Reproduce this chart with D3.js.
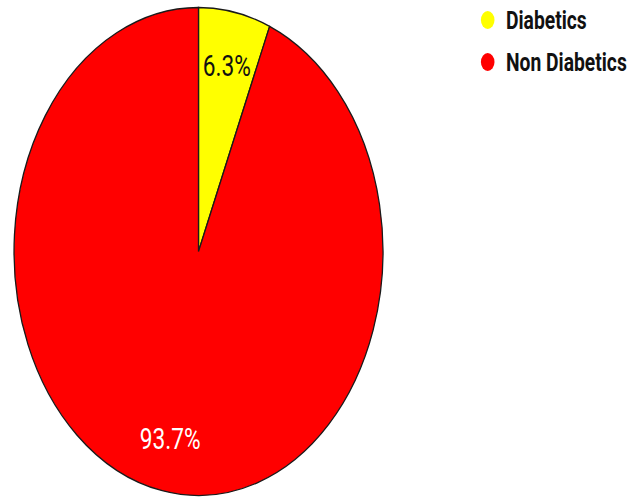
<!DOCTYPE html>
<html>
<head>
<meta charset="utf-8">
<script src="https://cdn.jsdelivr.net/npm/d3@7"></script>
<style>
  html, body { margin: 0; padding: 0; background: #fff; }
  svg { display: block; }
</style>
</head>
<body>
<svg id="chart" width="630" height="499"></svg>
<script>
// Share of patients by diabetes status
const categories = ["Diabetics", "Non Diabetics"];
const shares = [6.3, 93.7];
const colors = ["#ffff00", "#ff0000"];
const labelColors = ["#111111", "#ffffff"];

const W = 630, H = 499;
const sx = 0.756;           // horizontal squash of the whole drawing
const radius = 244;
const cx = 198.5, cy = 251.5;

const svg = d3.select("#chart");
const root = svg.append("g").attr("transform", `scale(${sx},1)`);

const pie = d3.pie().sort(null).value(d => d.value);
const arcs = pie(categories.map((c, i) => ({ name: c, value: shares[i], i })));

const arc = d3.arc().innerRadius(0).outerRadius(radius);
const labelArc = d3.arc().innerRadius(radius * 0.78).outerRadius(radius * 0.78);

const pieG = root.append("g").attr("transform", `translate(${cx / sx},${cy})`);

pieG.selectAll("path.slice")
  .data(arcs)
  .join("path")
  .attr("class", "slice")
  .attr("d", arc)
  .attr("fill", d => colors[d.data.i])
  .attr("stroke", "#1a1a1a")
  .attr("stroke-width", 1.3)
  .attr("vector-effect", "non-scaling-stroke");

pieG.selectAll("text.pct")
  .data(arcs)
  .join("text")
  .attr("class", "pct")
  .attr("transform", d => `translate(${labelArc.centroid(d)})`)
  .attr("text-anchor", "middle")
  .attr("dy", "0.36em")
  .attr("font-family", "Roboto, sans-serif")
  .attr("font-size", 30)
  .attr("fill", d => labelColors[d.data.i])
  .text(d => d.data.value.toFixed(1) + "%");

// Legend
const legend = root.append("g");
const legendY = [20, 62];
const items = legend.selectAll("g.item")
  .data(categories)
  .join("g")
  .attr("class", "item")
  .attr("transform", (d, i) => `translate(0,${legendY[i]})`);

items.append("circle")
  .attr("cx", 487.7 / sx)
  .attr("cy", 0)
  .attr("r", 9)
  .attr("fill", (d, i) => colors[i]);

items.append("text")
  .attr("x", 506 / sx)
  .attr("y", 0)
  .attr("dy", "0.36em")
  .attr("font-family", "Roboto, sans-serif")
  .attr("font-weight", "bold")
  .attr("font-size", 25.5)
  .attr("fill", "#111")
  .text(d => d);
</script>
</body>
</html>
